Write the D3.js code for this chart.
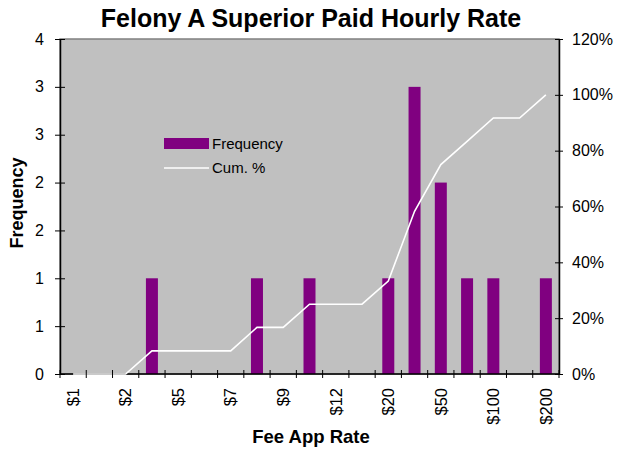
<!DOCTYPE html>
<meta charset="utf-8">
<script src="https://d3js.org/d3.v7.min.js"></script>
<style>
body { margin: 0; background: #fff; }
text { font-family: Arial, "Liberation Sans", sans-serif; }
</style>
<body>
<div id="chart"></div>
<script>

// bins (only every other label is printed on the axis)
var bins = ["$1", "$1.5", "$2", "$3", "$5", "$6", "$7", "$8", "$9", "$10",
            "$12", "$15", "$20", "$30", "$50", "$75", "$100", "$150", "$200"];
var frequency = [0, 0, 0, 1, 0, 0, 0, 1, 0, 1, 0, 0, 1, 3, 2, 1, 1, 0, 1];
var cumPct = [0, 0, 0, 8.3, 8.3, 8.3, 8.3, 16.7, 16.7, 25, 25, 25, 33.3, 58.3, 75, 83.3, 91.7, 91.7, 100];
var freqTicks = [0, 0.5, 1, 1.5, 2, 2.5, 3, 3.5];
var pctTicks = [0, 20, 40, 60, 80, 100, 120];

var W = 624, H = 450;
var margin = {top: 39, right: 65, bottom: 76, left: 60},
    width = W - margin.left - margin.right,
    height = H - margin.top - margin.bottom;

var svg = d3.select("#chart")
  .append("svg")
    .attr("width", W)
    .attr("height", H);

var g = svg.append("g")
    .attr("transform", "translate(" + margin.left + "," + margin.top + ")");

// title
svg.append("text")
    .attr("x", 311)
    .attr("y", 27)
    .attr("text-anchor", "middle")
    .style("font-size", "25px")
    .style("font-weight", "bold")
    .text("Felony A Superior Paid Hourly Rate");

// plot area
g.append("rect")
    .attr("width", width)
    .attr("height", height)
    .attr("fill", "#c0c0c0")
    .attr("stroke", "#808080")
    .attr("stroke-width", 1.5);

var x = d3.scaleBand()
    .domain(bins)
    .range([0, width]);

var yL = d3.scaleLinear().domain([0, 3.5]).range([height, 0]);
var yR = d3.scaleLinear().domain([0, 120]).range([height, 0]);

// bars
g.selectAll(".bar")
  .data(frequency)
  .enter()
  .append("rect")
    .attr("class", "bar")
    .attr("x", function(d, i) { return x(bins[i]) + x.bandwidth() / 2 - 6; })
    .attr("width", 12)
    .attr("y", function(d) { return yL(d); })
    .attr("height", function(d) { return height - yL(d); })
    .attr("fill", "#800080");

// bottom axis line (the cum. line is drawn over it)
var bottom = g.append("g")
    .attr("transform", "translate(0," + height + ")");
bottom.append("line")
    .attr("x1", 0).attr("x2", width)
    .attr("stroke", "#000").attr("stroke-width", 1.5);

// cumulative line
var line = d3.line()
    .x(function(d, i) { return x(bins[i]) + x.bandwidth() / 2; })
    .y(function(d) { return yR(d); });

g.append("path")
    .datum(cumPct)
    .attr("d", line)
    .attr("fill", "none")
    .attr("stroke", "#fff")
    .attr("stroke-width", 1.6);

// bottom ticks and labels
var bottomTicks = g.append("g")
    .attr("transform", "translate(0," + height + ")");
bottomTicks.selectAll(".xtick")
  .data(d3.range(bins.length + 1))
  .enter()
  .append("line")
    .attr("x1", function(i) { return i * x.step(); })
    .attr("x2", function(i) { return i * x.step(); })
    .attr("y1", -4).attr("y2", 4)
    .attr("stroke", "#000");
bottomTicks.selectAll(".xlabel")
  .data(bins.filter(function(d, i) { return i % 2 === 0; }))
  .enter()
  .append("text")
    .attr("transform", function(d) {
      return "translate(" + (x(d) + x.bandwidth() / 2) + ",14) rotate(-90)";
    })
    .attr("dy", "0.35em")
    .attr("text-anchor", "end")
    .style("font-size", "16.5px")
    .text(function(d) { return d; });

// left axis
var left = g.append("g")
    .call(d3.axisLeft(yL).tickValues(freqTicks).tickSize(0)
      .tickFormat(function(d) { return Math.round(d + 0.001); }));
left.select(".domain").attr("stroke", "#000").attr("stroke-width", 1.5);
left.selectAll(".tick text").attr("x", -16).style("font-size", "16px").style("font-family", "Arial, 'Liberation Sans', sans-serif");
left.selectAll(".tick").append("line").attr("x1", -5).attr("x2", 5).attr("stroke", "#000");

// right axis
var right = g.append("g")
    .attr("transform", "translate(" + width + ",0)")
    .call(d3.axisRight(yR).tickValues(pctTicks).tickSize(0)
      .tickFormat(function(d) { return d + "%"; }));
right.select(".domain").attr("stroke", "#000").attr("stroke-width", 1.5);
right.selectAll(".tick text").attr("x", 13).style("font-size", "16px").style("font-family", "Arial, 'Liberation Sans', sans-serif");
right.selectAll(".tick").append("line").attr("x1", -4).attr("x2", 4).attr("stroke", "#000");

// axis titles
svg.append("text")
    .attr("x", 311)
    .attr("y", 443)
    .attr("text-anchor", "middle")
    .style("font-size", "18.5px")
    .style("font-weight", "bold")
    .text("Fee App Rate");

svg.append("text")
    .attr("transform", "translate(23,203) rotate(-90)")
    .attr("text-anchor", "middle")
    .style("font-size", "18px")
    .style("font-weight", "bold")
    .text("Frequency");

// legend
var legend = svg.append("g").attr("transform", "translate(164,0)");
legend.append("rect")
    .attr("x", 0).attr("y", 138)
    .attr("width", 45).attr("height", 11)
    .attr("fill", "#800080");
legend.append("line")
    .attr("x1", 0).attr("x2", 45)
    .attr("y1", 168).attr("y2", 168)
    .attr("stroke", "#fff").attr("stroke-width", 1.6);
legend.append("text")
    .attr("x", 48).attr("y", 143.5).attr("dy", "0.35em")
    .style("font-size", "15px")
    .text("Frequency");
legend.append("text")
    .attr("x", 48).attr("y", 168).attr("dy", "0.35em")
    .style("font-size", "15px")
    .text("Cum. %");

</script>
</body>
